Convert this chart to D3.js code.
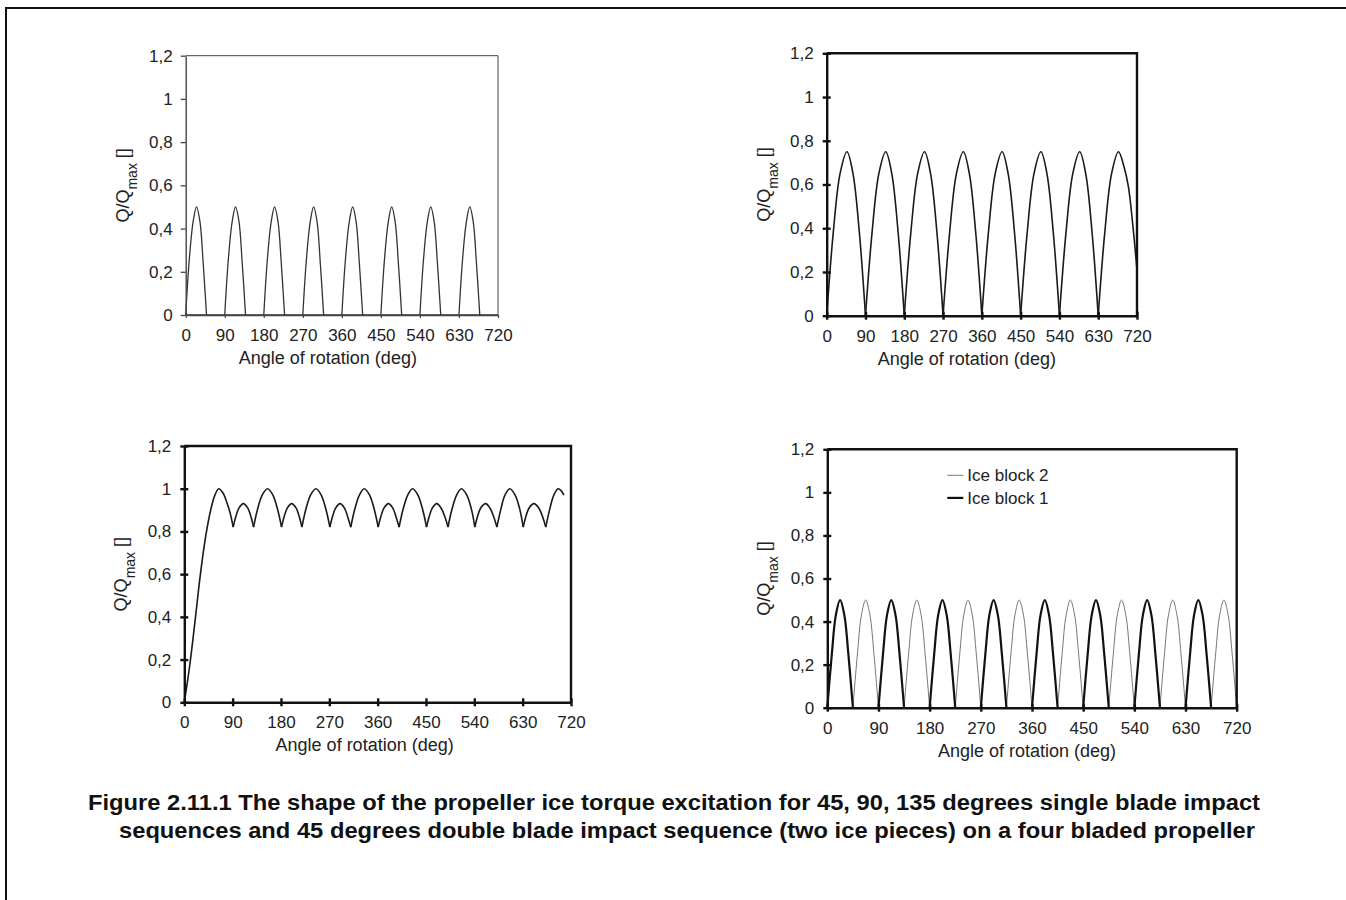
<!DOCTYPE html>
<html><head><meta charset="utf-8">
<script src="https://cdn.jsdelivr.net/npm/d3@7/dist/d3.min.js"></script>
<style>
body{margin:0;background:#fff}
svg{display:block}
text{font-family:"Liberation Sans",Arial,Helvetica,sans-serif}
</style>
</head><body>
<svg id="c" width="1346" height="900"></svg>
<script>
// ---------- data ----------
const xTicks = [0, 90, 180, 270, 360, 450, 540, 630, 720];
const yTicks = [0, 0.2, 0.4, 0.6, 0.8, 1, 1.2];
const yTickLabels = ["0", "0,2", "0,4", "0,6", "0,8", "1", "1,2"];
const xTitle = "Angle of rotation (deg)";
const legendLabels = ["Ice block 2", "Ice block 1"];
const captionLines = [
  "Figure 2.11.1 The shape of the propeller ice torque excitation for 45, 90, 135 degrees single blade impact",
  "sequences and 45 degrees double blade impact sequence (two ice pieces) on a four bladed propeller"
];

// panel 1: 45 deg single blade impacts  [angle, Q/Qmax]
const pulses45 = [
  [[0,0],[8,.25],[17,.43],[25,.5],[33,.43],[40,.25],[48,0]],
  [[90,0],[98,.25],[107,.43],[115,.5],[123,.43],[130,.25],[138,0]],
  [[180,0],[188,.25],[197,.43],[205,.5],[213,.43],[220,.25],[228,0]],
  [[270,0],[278,.25],[287,.43],[295,.5],[303,.43],[310,.25],[318,0]],
  [[360,0],[368,.25],[377,.43],[385,.5],[393,.43],[400,.25],[408,0]],
  [[450,0],[458,.25],[467,.43],[475,.5],[483,.43],[490,.25],[498,0]],
  [[540,0],[548,.25],[557,.43],[565,.5],[573,.43],[580,.25],[588,0]],
  [[630,0],[638,.25],[647,.43],[655,.5],[663,.43],[670,.25],[678,0]]
];
const baseline45 = [[0,0],[720,0]];

// panel 2: 90 deg single blade impacts
const pulses90 = [
  [[0,0],[15,.375],[31,.65],[47,.75],[61,.65],[76,.375],[90,0]],
  [[90,0],[105,.375],[121,.65],[137,.75],[151,.65],[166,.375],[180,0]],
  [[180,0],[195,.375],[211,.65],[227,.75],[241,.65],[256,.375],[270,0]],
  [[270,0],[285,.375],[301,.65],[317,.75],[331,.65],[346,.375],[360,0]],
  [[360,0],[375,.375],[391,.65],[407,.75],[421,.65],[436,.375],[450,0]],
  [[450,0],[465,.375],[481,.65],[497,.75],[511,.65],[526,.375],[540,0]],
  [[540,0],[555,.375],[571,.65],[587,.75],[601,.65],[616,.375],[630,0]],
  [[630,0],[645,.375],[661,.65],[677,.75],[690,.68],[700,.59],[710,.42],[720,.21]]
];

// panel 3: 135 deg single blade impacts (arcs between cusps)
const arcs135 = [
  [[0,0],[10,.17],[20,.38],[30,.6],[40,.78],[50,.91],[57,.97],[64,1],[72,.98],[80,.93],[86,.88],[91,.82]],
  [[91,.82],[96,.87],[102,.91],[110,.93],[118,.91],[124,.87],[129,.82]],
  [[129,.82],[136,.9],[145,.97],[155,1],[165,.97],[174,.9],[181,.82]],
  [[181,.82],[186,.87],[192,.91],[200,.93],[208,.91],[214,.87],[219,.82]],
  [[219,.82],[226,.9],[235,.97],[245,1],[255,.97],[264,.9],[271,.82]],
  [[271,.82],[276,.87],[282,.91],[290,.93],[298,.91],[304,.87],[310,.82]],
  [[310,.82],[317,.9],[326,.97],[335,1],[345,.97],[354,.9],[361,.82]],
  [[361,.82],[366,.87],[372,.91],[380,.93],[388,.91],[394,.87],[400,.82]],
  [[400,.82],[407,.9],[416,.97],[425,1],[435,.97],[444,.9],[451,.82]],
  [[451,.82],[456,.87],[462,.91],[470,.93],[478,.91],[485,.87],[491,.82]],
  [[491,.82],[498,.9],[507,.97],[516,1],[526,.97],[535,.9],[541,.82]],
  [[541,.82],[546,.87],[552,.91],[561,.93],[569,.91],[576,.87],[582,.82]],
  [[582,.82],[589,.9],[597,.97],[606,1],[616,.97],[625,.9],[631,.82]],
  [[631,.82],[636,.87],[642,.91],[651,.93],[660,.91],[667,.87],[673,.82]],
  [[673,.82],[680,.9],[688,.97],[696,1],[702,.99],[707,.97]]
];

// panel 4: 45 deg double blade impacts
const iceBlock1 = [
  [[0,0],[8,.25],[15,.43],[22.5,.5],[30,.43],[37,.25],[45,0]],
  [[90,0],[98,.25],[105,.43],[112.5,.5],[120,.43],[127,.25],[135,0]],
  [[180,0],[188,.25],[195,.43],[202.5,.5],[210,.43],[217,.25],[225,0]],
  [[270,0],[278,.25],[285,.43],[292.5,.5],[300,.43],[307,.25],[315,0]],
  [[360,0],[368,.25],[375,.43],[382.5,.5],[390,.43],[397,.25],[405,0]],
  [[450,0],[458,.25],[465,.43],[472.5,.5],[480,.43],[487,.25],[495,0]],
  [[540,0],[548,.25],[555,.43],[562.5,.5],[570,.43],[577,.25],[585,0]],
  [[630,0],[638,.25],[645,.43],[652.5,.5],[660,.43],[667,.25],[675,0]]
];
const iceBlock2 = [
  [[45,0],[53,.25],[60,.43],[67.5,.5],[75,.43],[82,.25],[90,0]],
  [[135,0],[143,.25],[150,.43],[157.5,.5],[165,.43],[172,.25],[180,0]],
  [[225,0],[233,.25],[240,.43],[247.5,.5],[255,.43],[262,.25],[270,0]],
  [[315,0],[323,.25],[330,.43],[337.5,.5],[345,.43],[352,.25],[360,0]],
  [[405,0],[413,.25],[420,.43],[427.5,.5],[435,.43],[442,.25],[450,0]],
  [[495,0],[503,.25],[510,.43],[517.5,.5],[525,.43],[532,.25],[540,0]],
  [[585,0],[593,.25],[600,.43],[607.5,.5],[615,.43],[622,.25],[630,0]],
  [[675,0],[683,.25],[690,.43],[697.5,.5],[705,.43],[712,.25],[720,0]]
];

// ---------- drawing ----------
const svg = d3.select("#c");
const TXT = "#222";

// outer page frame
svg.append("rect").attr("x", 6).attr("y", 8).attr("width", 1400).attr("height", 1000)
  .attr("fill", "none").attr("stroke", "#111").attr("stroke-width", 2);

const panels = [
  {x0:185.7, x1:498,   yb:315,   yt:55.7,  heavy:false, titleDx:-14, series:[{data:pulses45, w:1.3, c:"#333"}, {data:[baseline45], w:1.3, c:"#333"}]},
  {x0:826.7, x1:1137,  yb:315.7, yt:53.3,  heavy:true,  titleDx:-15, series:[{data:pulses90, w:1.6, c:"#1a1a1a"}]},
  {x0:184.3, x1:571,   yb:702.3, yt:446,   heavy:true,  titleDx:-13, series:[{data:arcs135, w:1.6, c:"#1a1a1a"}]},
  {x0:827.3, x1:1236.7,yb:707.7, yt:449.3, heavy:true,  titleDx:-5,  series:[{data:iceBlock2, w:1, c:"#777"}, {data:iceBlock1, w:2.2, c:"#111"}], legend:true}
];

panels.forEach(p => {
  const x = d3.scaleLinear().domain([0, 720]).range([p.x0, p.x1]);
  const y = d3.scaleLinear().domain([0, 1.2]).range([p.yb, p.yt]);
  const g = svg.append("g");
  const fw = p.heavy ? 2.4 : 1;
  const aw = p.heavy ? 2.4 : 1.4;
  const fc = p.heavy ? "#111" : "#444";

  // data lines
  const line = d3.line().x(d => x(d[0])).y(d => y(d[1])).curve(d3.curveCatmullRom.alpha(0.5));
  p.series.forEach(s => {
    g.append("g").selectAll("path").data(s.data).join("path")
      .attr("d", line).attr("fill", "none").attr("stroke", s.c)
      .attr("stroke-width", s.w).attr("stroke-linejoin", "round");
  });

  // frame (top & right)
  g.append("path")
    .attr("d", `M${x(0)},${y(1.2)}H${x(720)}V${y(0)}`)
    .attr("fill", "none").attr("stroke", fc).attr("stroke-width", fw);

  // y axis
  const tk = p.heavy ? 4 : 5;
  const ya = g.append("g").attr("transform", `translate(${x(0)},0)`)
    .call(d3.axisLeft(y).tickValues(yTicks).tickFormat((d, i) => yTickLabels[i])
      .tickSizeInner(tk).tickSizeOuter(0).tickPadding(p.heavy ? 9 : 8));
  ya.select(".domain").attr("stroke", fc).attr("stroke-width", aw);
  ya.selectAll(".tick line").attr("stroke", fc).attr("stroke-width", p.heavy ? 2.4 : 1.3)
    .attr("x1", p.heavy ? 4 : 0);
  ya.selectAll(".tick text").attr("fill", TXT).style("font-size", "17px");

  // x axis
  const xk = p.heavy ? 4 : 3;
  const xa = g.append("g").attr("transform", `translate(0,${y(0)})`)
    .call(d3.axisBottom(x).tickValues(xTicks).tickFormat(d3.format("d"))
      .tickSizeInner(xk).tickSizeOuter(0).tickPadding(p.heavy ? 10 : 11));
  xa.select(".domain").attr("stroke", fc).attr("stroke-width", aw);
  xa.selectAll(".tick line").attr("stroke", fc).attr("stroke-width", p.heavy ? 2.4 : 1.2)
    .attr("y1", p.heavy ? -4 : 0);
  xa.selectAll(".tick text").attr("fill", TXT).style("font-size", "17px");

  // x title
  g.append("text").attr("x", (p.x0 + p.x1) / 2 + p.titleDx).attr("y", p.yb + 49)
    .attr("text-anchor", "middle").attr("fill", TXT).style("font-size", "18px").text(xTitle);

  // y title
  const yc = (p.yb + p.yt) / 2;
  const yt = g.append("text")
    .attr("transform", `translate(${p.x0 - 57},${yc}) rotate(-90)`)
    .attr("text-anchor", "middle").attr("fill", TXT).style("font-size", "18px");
  yt.append("tspan").text("Q/Q");
  yt.append("tspan").attr("baseline-shift", "sub").style("font-size", "14px").text("max");
  yt.append("tspan").text(" []");

  if (p.legend) {
    const lx = x(0) + 120, ly = y(1.2) + 26;
    [{c:"#777", w:1}, {c:"#111", w:2.2}].forEach((st, i) => {
      const yy = ly + i * 22.6;
      g.append("line").attr("x1", lx).attr("x2", lx + 16).attr("y1", yy).attr("y2", yy)
        .attr("stroke", st.c).attr("stroke-width", st.w);
      g.append("text").attr("x", lx + 20).attr("y", yy).attr("dy", "0.35em")
        .attr("fill", TXT).style("font-size", "17px").text(legendLabels[i]);
    });
  }
});

// caption
const capG = svg.append("g");
const capPos = [{x:88, y:810, len:1172}, {x:119, y:838, len:1136}];
captionLines.forEach((t, i) => {
  capG.append("text").attr("x", capPos[i].x).attr("y", capPos[i].y)
    .attr("textLength", capPos[i].len).attr("lengthAdjust", "spacingAndGlyphs")
    .attr("fill", "#111").style("font-size", "22px").style("font-weight", "bold").text(t);
});
</script>
</body></html>
